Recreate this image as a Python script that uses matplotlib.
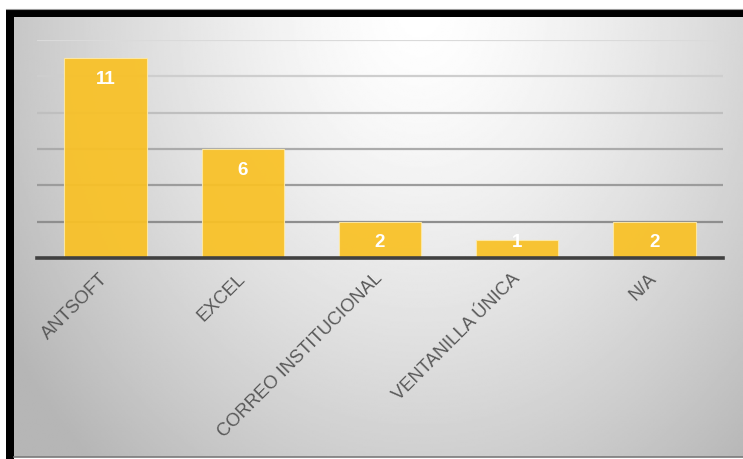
import numpy as np
import matplotlib as mpl
mpl.use('Agg')
import matplotlib.pyplot as plt
from matplotlib.patches import Rectangle

mpl.rc('font', family=['Liberation Sans', 'DejaVu Sans'])

# Data
categories = ['ANTSOFT', 'EXCEL', 'CORREO INSTITUCIONAL', 'VENTANILLA ÚNICA', 'N/A']
counts = [11, 6, 2, 1, 2]
grid_values = [2, 4, 6, 8, 10, 12]
grid_colors = ['#8e8e8e', '#9c9c9c', '#ababab', '#bfbfbf', '#cecece', '#dadada']

W, H = 743, 459
fig = plt.figure(figsize=(W / 100, H / 100), dpi=100)
fig.patch.set_facecolor('white')

# background panel with a soft radial gradient and black frame
bg = fig.add_axes([0, 0, 1, 1])
bg.set_xlim(0, W)
bg.set_ylim(H, 0)
bg.axis('off')
xx, yy = np.meshgrid(np.linspace(14, 743, 400), np.linspace(17, 457, 250))
r = np.sqrt(((xx - 420) / 380.0) ** 2 + ((yy - 10) / 470.0) ** 2)
shade = 1.0 - 0.20 * np.clip(r, 0, 1.3) ** 1.4
bg.imshow(shade, cmap='gray', vmin=0, vmax=1, extent=(14, 743, 457, 17),
          aspect='auto', interpolation='bilinear')
bg.add_patch(Rectangle((6, 9), W - 6, 8, color='black', lw=0))
bg.add_patch(Rectangle((6, 9), 8, H - 9, color='black', lw=0))
bg.plot([14, W], [457, 457], color='#7a7a7a', lw=1.2)
bg.plot([6, W], [9, 9], color='#9a9a9a', lw=0.8)

ax = fig.add_axes([37 / W, 1 - 258 / H, 686 / W, 218 / H])
ax.patch.set_alpha(0)
x = np.arange(len(categories))

for val, col in zip(grid_values, grid_colors):
    ax.axhline(val, color=col, lw=1.6, zorder=1)

ax.bar(x, counts, width=0.6, color='#f9c125', edgecolor='#fde9a6',
       linewidth=0.8, alpha=0.93, zorder=2)

for xi, v in zip(x, counts):
    ax.text(xi, max(v - 1.2, 0.85), str(v), ha='center', va='center',
            color='white', fontsize=13.5, fontweight='bold', zorder=3)

ax.set_xlim(-0.5, len(categories) - 0.5)
ax.set_ylim(0, 12)
ax.set_yticks([])
for side in ['top', 'right', 'left']:
    ax.spines[side].set_visible(False)
ax.spines['bottom'].set_color('#404040')
ax.spines['bottom'].set_linewidth(2.6)
ax.spines['bottom'].set_zorder(4)

ax.set_xticks(x)
ax.set_xticklabels(categories, rotation=45, ha='right', va='center',
                   rotation_mode='anchor', fontsize=13.2, color='#595959')
ax.tick_params(axis='x', length=0, pad=13)

fig.savefig('out.png', dpi=100)
